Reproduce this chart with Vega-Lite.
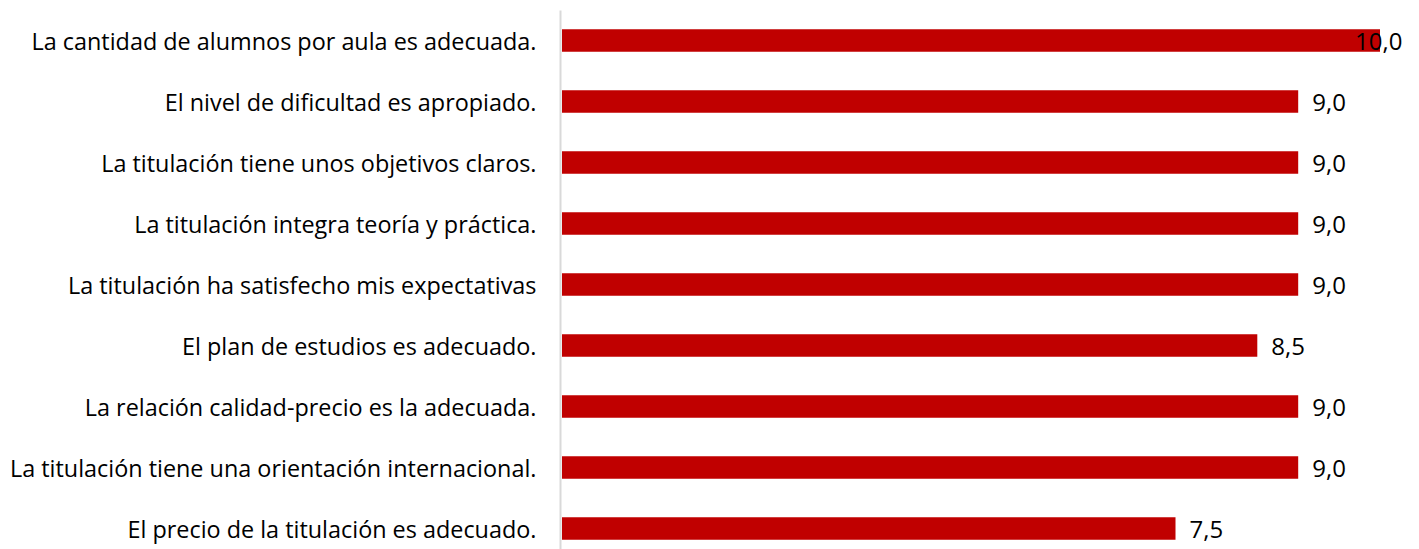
{
  "$schema": "https://vega.github.io/schema/vega-lite/v6.json",
  "autosize": "none",
  "width": 818,
  "height": 549,
  "padding": {"left": 562, "top": 10, "right": 39, "bottom": 0},
  "background": "white",
  "config": {
    "view": {"stroke": null},
    "locale": {"number": {"decimal": ",", "thousands": ".", "grouping": [3], "currency": ["", " €"]}},
    "font": "Open Sans"
  },
  "data": {
    "values": [
      {"item": "La cantidad de alumnos por aula es adecuada.", "value": 10.0},
      {"item": "El nivel de dificultad es apropiado.", "value": 9.0},
      {"item": "La titulación tiene unos objetivos claros.", "value": 9.0},
      {"item": "La titulación integra teoría y práctica.", "value": 9.0},
      {"item": "La titulación ha satisfecho mis expectativas", "value": 9.0},
      {"item": "El plan de estudios es adecuado.", "value": 8.5},
      {"item": "La relación calidad-precio es la adecuada.", "value": 9.0},
      {"item": "La titulación tiene una orientación internacional.", "value": 9.0},
      {"item": "El precio de la titulación es adecuado.", "value": 7.5}
    ]
  },
  "encoding": {
    "y": {
      "field": "item",
      "type": "nominal",
      "sort": null,
      "scale": {"paddingInner": 0.63, "paddingOuter": 0.315},
      "axis": {
        "title": null,
        "ticks": false,
        "domainColor": "#D9D9D9",
        "domainWidth": 2,
        "offset": 2,
        "labelFont": "Open Sans",
        "labelFontSize": 23.4,
        "labelColor": "#000000",
        "labelPadding": 24,
        "labelLimit": 600,
        "labelOffset": 2
      }
    },
    "x": {
      "field": "value",
      "type": "quantitative",
      "scale": {"domain": [0, 10], "nice": false},
      "axis": null
    }
  },
  "layer": [
    {"mark": {"type": "bar", "color": "#C00000"}},
    {
      "transform": [{"filter": "datum.value < 10"}],
      "mark": {"type": "text", "align": "left", "baseline": "middle", "dx": 14, "dy": 2, "fontSize": 24, "font": "Open Sans", "color": "#000000"},
      "encoding": {"text": {"field": "value", "type": "quantitative", "format": ".1f"}}
    },
    {
      "transform": [{"filter": "datum.value >= 10"}],
      "mark": {"type": "text", "align": "left", "baseline": "middle", "dx": -25, "dy": 2, "fontSize": 24, "font": "Open Sans", "color": "#000000"},
      "encoding": {"text": {"field": "value", "type": "quantitative", "format": ".1f"}}
    }
  ]
}
